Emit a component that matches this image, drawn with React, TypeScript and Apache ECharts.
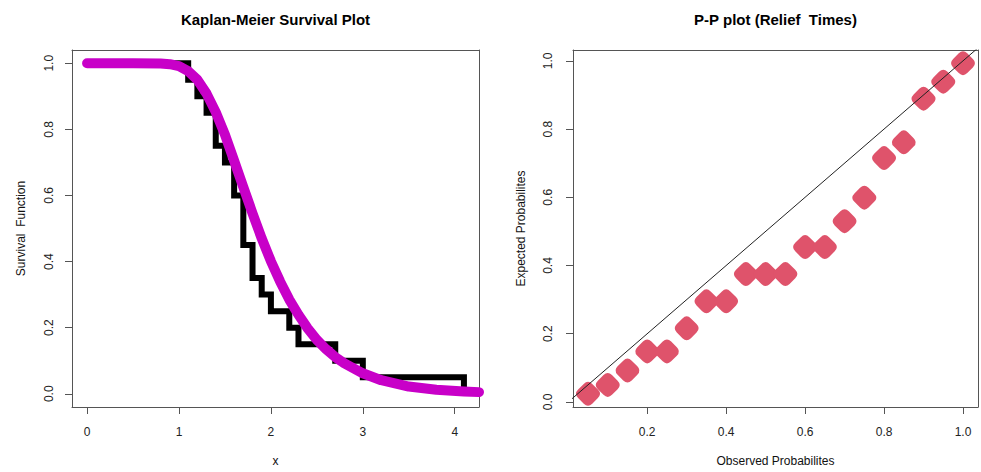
import React, { useEffect, useRef } from "react";
import * as echarts from "echarts";

// Kaplan-Meier step function (time, survival)
const KM_TIMES = [0, 1.1, 1.2, 1.3, 1.4, 1.5, 1.6, 1.7, 1.8, 1.9, 2.0, 2.2, 2.3, 2.7, 3.0, 4.1];
const KM_SURV = [1, 0.95, 0.9, 0.85, 0.75, 0.7, 0.6, 0.45, 0.35, 0.3, 0.25, 0.2, 0.15, 0.1, 0.05, 0];

// Fitted survival curve
const FIT_X = [0, 0.5, 0.8, 0.9, 1.0, 1.1, 1.2, 1.3, 1.4, 1.5, 1.6, 1.7, 1.8, 1.9, 2.0, 2.1, 2.2, 2.3, 2.4, 2.5, 2.6, 2.7, 2.8, 3.0, 3.2, 3.5, 3.8, 4.1, 4.264];
const FIT_S = [1, 1, 0.999, 0.997, 0.991, 0.976, 0.95, 0.908, 0.852, 0.784, 0.705, 0.625, 0.546, 0.47, 0.401, 0.34, 0.285, 0.239, 0.198, 0.163, 0.135, 0.111, 0.092, 0.062, 0.041, 0.022, 0.012, 0.007, 0.005];

// P-P plot points
const PP_OBSERVED = [0.05, 0.1, 0.15, 0.2, 0.25, 0.3, 0.35, 0.4, 0.45, 0.5, 0.55, 0.6, 0.65, 0.7, 0.75, 0.8, 0.85, 0.9, 0.95, 1.0];
const PP_EXPECTED = [0.024, 0.05, 0.092, 0.148, 0.148, 0.216, 0.295, 0.295, 0.375, 0.375, 0.375, 0.454, 0.454, 0.53, 0.599, 0.715, 0.761, 0.889, 0.939, 0.993];

const DIAG = [-0.1, 1.1];

const X1_TICKS = [0, 1, 2, 3, 4];
const Y_TICKS = [0, 0.2, 0.4, 0.6, 0.8, 1.0];
const X2_TICKS = [0.2, 0.4, 0.6, 0.8, 1.0];

const FONT = '"Liberation Sans", Arial, Helvetica, sans-serif';
const DIAMOND = "path://M-3,-7 Q0,-10 3,-7 L7,-3 Q10,0 7,3 L3,7 Q0,10 -3,7 L-7,3 Q-10,0 -7,-3 Z";

export default function App() {
  const ref = useRef<HTMLDivElement>(null);
  useEffect(() => {
    document.body.style.margin = "0";
    const chart = echarts.init(ref.current!, null, { renderer: "svg" });
    const tickStyle = { show: true, length: 7, lineStyle: { color: "#555", width: 1 } };
    const lineStyleAxis = { show: true, onZero: false, lineStyle: { color: "#555", width: 1 } };
    const labelBase = { fontSize: 12, color: "#222", fontFamily: FONT };
    const nameStyle = { fontSize: 12, color: "#111", fontFamily: FONT };
    const frameAxis = (gridIndex: number, position: string, min: number, max: number) => ({
      gridIndex, type: "value", position, min, max,
      axisLine: lineStyleAxis, axisTick: { show: false }, axisLabel: { show: false }, splitLine: { show: false },
    });
    chart.setOption({
      animation: false,
      backgroundColor: "#fff",
      graphic: [
        {
          type: "text", x: 275.5, y: 19,
          style: { text: "Kaplan-Meier Survival Plot", fontSize: 15, fontWeight: "bold", fontFamily: FONT, fill: "#000", align: "center", verticalAlign: "middle" },
        },
        {
          type: "text", x: 775.5, y: 19,
          style: { text: "P-P plot (Relief  Times)", fontSize: 15, fontWeight: "bold", fontFamily: FONT, fill: "#000", align: "center", verticalAlign: "middle" },
        },
      ],
      grid: [
        { left: 72, top: 50, width: 407, height: 362 },
        { left: 573, top: 50, width: 405, height: 362 },
      ],
      xAxis: [
        {
          gridIndex: 0, type: "value", position: "bottom", min: -0.164, max: 4.264,
          axisLine: lineStyleAxis, splitLine: { show: false },
          axisTick: { ...tickStyle, customValues: X1_TICKS },
          axisLabel: { ...labelBase, margin: 19, customValues: X1_TICKS, formatter: (v: number) => String(v) },
          name: "x", nameLocation: "middle", nameGap: 48, nameTextStyle: nameStyle,
        },
        {
          gridIndex: 1, type: "value", position: "bottom", min: 0.012, max: 1.038,
          axisLine: lineStyleAxis, splitLine: { show: false },
          axisTick: { ...tickStyle, customValues: X2_TICKS },
          axisLabel: { ...labelBase, margin: 19, customValues: X2_TICKS, formatter: (v: number) => v.toFixed(1) },
          name: "Observed Probabilites", nameLocation: "middle", nameGap: 48, nameTextStyle: nameStyle,
        },
        frameAxis(0, "top", -0.164, 4.264),
        frameAxis(1, "top", 0.012, 1.038),
      ],
      yAxis: [
        {
          gridIndex: 0, type: "value", position: "left", min: -0.04, max: 1.04,
          axisLine: lineStyleAxis, splitLine: { show: false },
          axisTick: { ...tickStyle, customValues: Y_TICKS },
          axisLabel: { ...labelBase, margin: 17, rotate: 90, customValues: Y_TICKS, formatter: (v: number) => v.toFixed(1) },
          name: "Survival  Function", nameLocation: "middle", nameRotate: 90, nameGap: 45, nameTextStyle: nameStyle,
        },
        {
          gridIndex: 1, type: "value", position: "left", min: -0.0148, max: 1.0318,
          axisLine: lineStyleAxis, splitLine: { show: false },
          axisTick: { ...tickStyle, customValues: Y_TICKS },
          axisLabel: { ...labelBase, margin: 19, rotate: 90, customValues: Y_TICKS, formatter: (v: number) => v.toFixed(1) },
          name: "Expected Probabilites", nameLocation: "middle", nameRotate: 90, nameGap: 46, nameTextStyle: nameStyle,
        },
        frameAxis(0, "right", -0.04, 1.04),
        frameAxis(1, "right", -0.0148, 1.0318),
      ],
      series: [
        {
          type: "line", xAxisIndex: 0, yAxisIndex: 0, step: "end",
          data: KM_TIMES.map((t, i) => [t, KM_SURV[i]]),
          showSymbol: false, symbol: "none",
          lineStyle: { color: "#000", width: 6, join: "miter", cap: "butt" },
          z: 2,
        },
        {
          type: "line", xAxisIndex: 0, yAxisIndex: 0, smooth: false,
          data: FIT_X.map((x, i) => [x, FIT_S[i]]),
          showSymbol: false, symbol: "none",
          lineStyle: { color: "#C800C8", width: 10, cap: "round", join: "round" },
          z: 3,
        },
        {
          type: "scatter", xAxisIndex: 1, yAxisIndex: 1,
          data: PP_OBSERVED.map((x, i) => [x, PP_EXPECTED[i]]),
          symbol: DIAMOND, symbolSize: 24,
          itemStyle: { color: "#DF536B", opacity: 1 },
          clip: false, z: 2,
        },
        {
          type: "line", xAxisIndex: 1, yAxisIndex: 1,
          data: DIAG.map((v) => [v, v]),
          showSymbol: false, symbol: "none",
          lineStyle: { color: "#222", width: 1 },
          z: 3,
        },
      ],
    });
    return () => chart.dispose();
  }, []);
  return <div ref={ref} style={{ width: 981, height: 472 }} />;
}
